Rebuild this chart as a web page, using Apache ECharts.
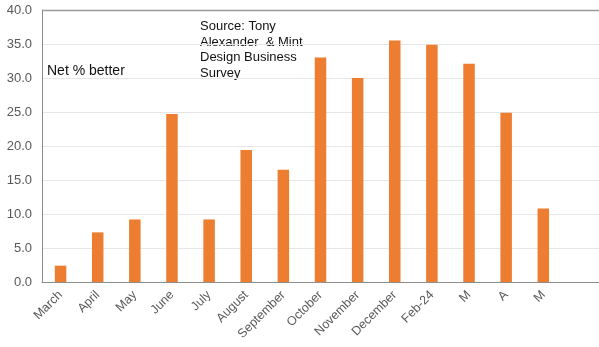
<!DOCTYPE html>
<html>
<head>
<meta charset="utf-8">
<script src="https://cdn.jsdelivr.net/npm/echarts@6/dist/echarts.min.js"></script>
<style>html,body{margin:0;padding:0;background:#fff}#c{width:599px;height:347px}</style>
</head>
<body>
<div id="c"></div>
<script>
const categories = ['March','April','May','June','July','August','September','October','November','December','Feb-24','M','A','M',''];
const values = [2.4, 7.3, 9.2, 24.7, 9.2, 19.4, 16.5, 33.0, 30.0, 35.5, 34.9, 32.1, 24.9, 10.8, null];
const yTicks = {min: 0, max: 40, interval: 5};
const noteLabel = 'Net % better';
const sourceLabel = 'Source: Tony\nAlexander  & Mint\nDesign Business\nSurvey';

const chart = echarts.init(document.getElementById('c'));
const font = 'Liberation Sans, Arial, sans-serif';
chart.setOption({
  animation: false,
  backgroundColor: '#fff',
  grid: {left: 42, top: 10, right: -1, bottom: 65, show: false},
  xAxis: {
    type: 'category',
    data: categories,
    axisLine: {lineStyle: {color: '#8c8c8c', width: 1}},
    axisTick: {show: false},
    axisLabel: {rotate: 45, color: '#595959', fontSize: 12.5, fontFamily: font, interval: 0, margin: 11}
  },
  yAxis: {
    type: 'value',
    min: yTicks.min, max: yTicks.max, interval: yTicks.interval,
    axisLine: {show: true, lineStyle: {color: '#8c8c8c', width: 1}},
    axisTick: {show: false},
    axisLabel: {color: '#595959', fontSize: 13, fontFamily: font, margin: 10, formatter: v => v.toFixed(1)},
    splitLine: {lineStyle: {color: '#e6e6e6', width: 1}}
  },
  graphic: [
    {type: 'line', shape: {x1: 42, y1: 10.5, x2: 599, y2: 10.5}, style: {stroke: '#9a9a9a', lineWidth: 1.5}, z: 10},
    {type: 'text', left: 47, top: 64, style: {text: noteLabel, fontSize: 14, fontFamily: font, fill: '#111'}},
    {type: 'text', left: 200, top: 19, style: {text: sourceLabel, fontSize: 13, lineHeight: 15.5, fontFamily: font, fill: '#111'}}
  ],
  series: [{
    type: 'bar',
    data: values,
    barWidth: 11.5,
    itemStyle: {color: '#ED7D31'}
  }]
});
</script>
</body>
</html>
